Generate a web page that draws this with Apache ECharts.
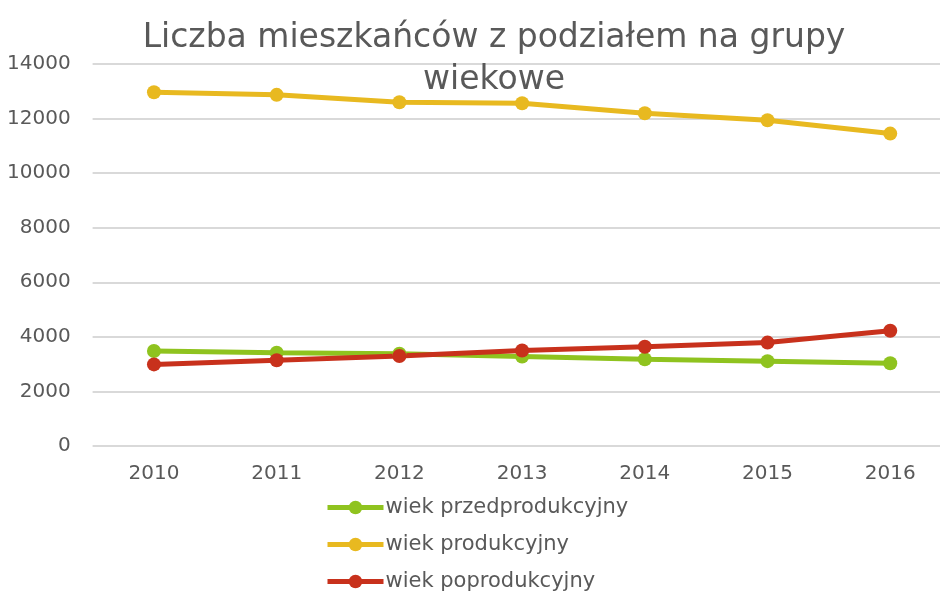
<!DOCTYPE html>
<html><head><meta charset="utf-8">
<script src="https://cdn.jsdelivr.net/npm/echarts@6/dist/echarts.min.js"></script>
<style>html,body{margin:0;padding:0;background:#fff;overflow:hidden}#c{width:952px;height:592px}</style>
</head><body><div id="c"></div>
<script>
const years = ['2010','2011','2012','2013','2014','2015','2016'];
const przed = [3480, 3420, 3380, 3280, 3180, 3110, 3030];
const prod = [12965, 12870, 12600, 12560, 12195, 11940, 11450];
const poprod = [2990, 3140, 3300, 3500, 3640, 3790, 4225];
const names = ['wiek przedprodukcyjny','wiek produkcyjny','wiek poprodukcyjny'];
const colors = ['#8fc31f','#e8b920','#c8311c'];
const font = 'DejaVu Sans';
const chart = echarts.init(document.getElementById('c'));
function s(name, data, color){
  return {name, type:'line', data, symbol:'circle', symbolSize:14,
    lineStyle:{width:5,color}, itemStyle:{color}, emphasis:{disabled:true}};
}
chart.setOption({
  animation:false,
  color: colors,
  title:{text:'Liczba mieszkańców z podziałem na grupy\nwiekowe', left:489, top:12, textAlign:'center',
    textStyle:{fontFamily:font, fontSize:33, fontWeight:'normal', color:'#595959', lineHeight:42}},
  grid:{left:92.6, right:0.4, top:64, bottom:146},
  xAxis:{type:'category', data:years, boundaryGap:true,
    axisLine:{show:false}, axisTick:{show:false},
    axisLabel:{fontFamily:font, fontSize:20, color:'#595959', margin:18}},
  yAxis:{type:'value', min:0, max:14000, interval:2000,
    axisLine:{show:false}, axisTick:{show:false},
    splitLine:{lineStyle:{color:'#d9d9d9', width:2}},
    axisLabel:{fontFamily:font, fontSize:20, color:'#595959', margin:22, formatter:v=>String(v)}},
  legend:{orient:'vertical', left:320, top:492, height:300, itemWidth:56, itemHeight:17, itemGap:16,
    lineStyle:{width:5}, data:names,
    textStyle:{fontFamily:font, fontSize:21, color:'#595959', padding:[0,0,0,-3]}},
  series:[s(names[0],przed,colors[0]), s(names[1],prod,colors[1]), s(names[2],poprod,colors[2])]
});
</script></body></html>
